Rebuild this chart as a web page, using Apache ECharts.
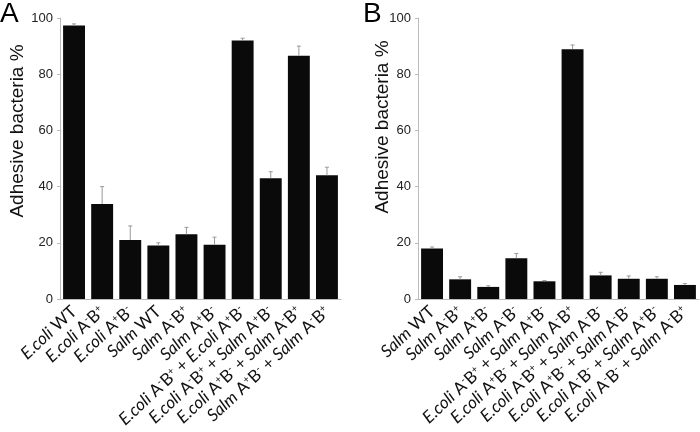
<!DOCTYPE html>
<html><head><meta charset="utf-8">
<script src="https://cdn.jsdelivr.net/npm/echarts@6/dist/echarts.min.js"></script>
<style>html,body{margin:0;padding:0;background:#fff}#c{width:700px;height:432px}</style>
</head><body><div id="c"></div>
<script>
// Panel A
const catsA = ["E.coli WT","E.coli A⁻B⁺","E.coli A⁺B⁻","Salm WT","Salm A⁻B⁺","Salm A⁺B⁻",
  "E.coli A⁻B⁺ + E.coli A⁺B⁻","E.coli A⁻B⁺ + Salm A⁺B⁻","E.coli A⁺B⁻ + Salm A⁻B⁺","Salm A⁺B⁻ + Salm A⁻B⁺"];
const valsA = [97.3, 33.8, 21.0, 19.0, 23.0, 19.3, 92.0, 43.0, 86.6, 44.0];
const errA  = [0.6, 6.2, 5.0, 1.0, 2.5, 2.7, 0.8, 2.3, 3.4, 2.9];
// Panel B
const catsB = ["Salm WT","Salm A⁻B⁺","Salm A⁺B⁻","Salm A⁻B⁻","E.coli A⁻B⁺ + Salm A⁺B⁻","E.coli A⁺B⁻ + Salm A⁻B⁺",
  "E.coli A⁻B⁺ + Salm A⁻B⁻","E.coli A⁺B⁻ + Salm A⁻B⁻","E.coli A⁻B⁻ + Salm A⁺B⁻","E.coli A⁻B⁻ + Salm A⁻B⁺"];
const valsB = [18.0, 7.0, 4.3, 14.5, 6.3, 88.9, 8.4, 7.2, 7.2, 5.0];
const errB  = [0.5, 0.9, 0.4, 1.7, 0.3, 1.5, 1.1, 1.0, 0.7, 0.5];
const yTicks = [0, 20, 40, 60, 80, 100];
const yName = "Adhesive bacteria %";

function toRich(s){
  return s.replace(/E\.coli|Salm/g, m => '{i|' + m + '}')
          .replace(/⁺/g, '{s|+}').replace(/⁻/g, '{s|-}');
}
const labelFont = 'Lato';
const xLabel = {
  rotate: 43, margin: 10, interval: 0, color: '#111', fontFamily: labelFont, fontSize: 17,
  formatter: v => toRich(v),
  rich: {
    i: {fontStyle: 'italic', fontFamily: labelFont, fontSize: 17, color: '#111'},
    s: {fontSize: 10, fontFamily: labelFont, color: '#111', verticalAlign: 'top', padding: [0,0,7,0]}
  }
};
const chart = echarts.init(document.getElementById('c'));
function errSeries(idx, vals, errs){
  return {
    type: 'custom', xAxisIndex: idx, yAxisIndex: idx, z: 5,
    data: vals.map((v,i) => [i, v, errs[i]]),
    renderItem: (params, api) => {
      const x = api.value(0), v = api.value(1), e = api.value(2);
      const p0 = api.coord([x, v]), p1 = api.coord([x, v + e]);
      const st = {stroke: '#999', lineWidth: 1};
      return {type: 'group', children: [
        {type: 'line', shape: {x1: p0[0], y1: p0[1], x2: p1[0], y2: p1[1]}, style: st},
        {type: 'line', shape: {x1: p1[0]-2, y1: p1[1], x2: p1[0]+2, y2: p1[1]}, style: st}
      ]};
    }
  };
}
const yAx = idx => ({
  type: 'value', gridIndex: idx, min: 0, max: 100, interval: 20,
  axisLine: {show: true, lineStyle: {color: '#bbb', width: 1}},
  axisTick: {show: true, length: 3, lineStyle: {color: '#bbb'}},
  splitLine: {show: false},
  axisLabel: {color: '#222', fontFamily: 'Liberation Sans', fontSize: 13, margin: 7,
    formatter: v => yTicks.includes(v) ? String(v) : ''}
});
const xAx = (idx, cats) => ({
  type: 'category', gridIndex: idx, data: cats,
  axisLine: {show: true, lineStyle: {color: '#bbb', width: 1}},
  axisTick: {show: false}, axisLabel: xLabel
});
chart.setOption({
  animation: false,
  grid: [
    {left: 60, width: 281, top: 18, bottom: 133},
    {left: 418, width: 281, top: 18, bottom: 133}
  ],
  xAxis: [xAx(0, catsA), xAx(1, catsB)],
  yAxis: [yAx(0), yAx(1)],
  series: [
    {type: 'bar', xAxisIndex: 0, yAxisIndex: 0, data: valsA, barWidth: '78%', itemStyle: {color: '#0a0a0a'}},
    {type: 'bar', xAxisIndex: 1, yAxisIndex: 1, data: valsB, barWidth: '78%', itemStyle: {color: '#0a0a0a'}},
    errSeries(0, valsA, errA),
    errSeries(1, valsB, errB)
  ],
  graphic: [
    {type: 'text', left: 0, top: 0, style: {text: 'A', font: '28px "Liberation Sans"', fill: '#000'}},
    {type: 'text', left: 363, top: 0, style: {text: 'B', font: '28px "Liberation Sans"', fill: '#000'}},
    {type: 'text', x: 18, y: 131, rotation: Math.PI/2,
      style: {text: yName, font: '19px "Liberation Sans"', fill: '#111', align: 'center', verticalAlign: 'middle'}},
    {type: 'text', x: 383, y: 127, rotation: Math.PI/2,
      style: {text: yName, font: '19px "Liberation Sans"', fill: '#111', align: 'center', verticalAlign: 'middle'}}
  ]
});
</script></body></html>
